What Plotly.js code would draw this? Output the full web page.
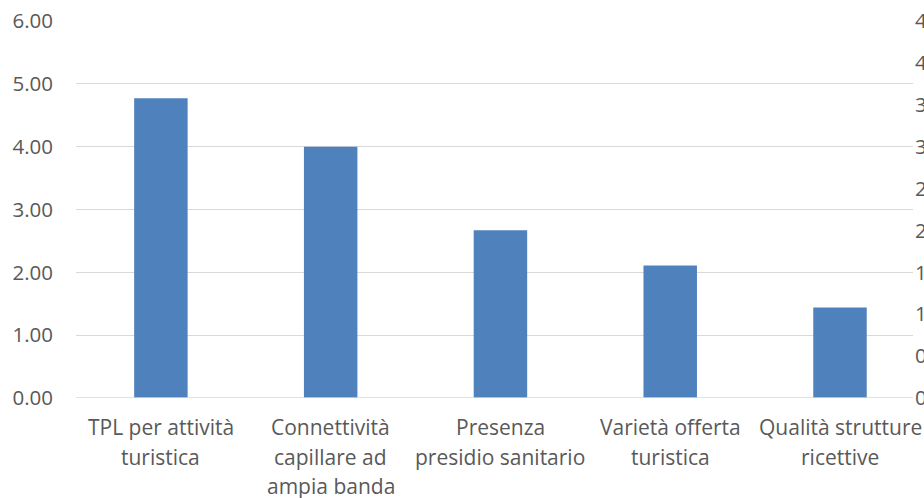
<!DOCTYPE html>
<html>
<head>
<meta charset="utf-8">
<script src="https://cdn.plot.ly/plotly-3.0.1.min.js"></script>
<style>
  html, body { margin: 0; padding: 0; background: #fff; }
  #chart { width: 924px; height: 498px; }
</style>
</head>
<body>
<div id="chart"></div>
<script>
// Category labels, split into the lines they are shown on
const categories = [
  ["TPL per attività", "turistica"],
  ["Connettività", "capillare ad", "ampia banda"],
  ["Presenza", "presidio sanitario"],
  ["Varietà offerta", "turistica"],
  ["Qualità strutture", "ricettive"]
];
const values = [4.77, 4.00, 2.67, 2.11, 1.44];
const leftTicks = [0, 1, 2, 3, 4, 5, 6];
const rightTicks = [0, 0.5, 1, 1.5, 2, 2.5, 3, 3.5, 4, 4.5];

const textColor = "#595959";
const fontFamily = "'Open Sans', 'Noto Sans', sans-serif";
const idx = categories.map((_, i) => i);

const trace = {
  type: "bar",
  x: idx,
  y: values,
  marker: { color: "#4F81BD", line: { width: 0 } },
  hoverinfo: "skip"
};

// One annotation per label line for the wide Excel-style line spacing
const annotations = [];
categories.forEach((lines, i) => {
  lines.forEach((line, j) => {
    annotations.push({
      x: i, xref: "x",
      y: 0, yref: "paper",
      yanchor: "middle",
      yshift: -29 - j * 29.5,
      text: line,
      showarrow: false,
      font: { family: fontFamily, size: 21, color: textColor }
    });
  });
});

const layout = {
  width: 924,
  height: 498,
  margin: { l: 76, r: 11, t: 21, b: 100 },
  paper_bgcolor: "#ffffff",
  plot_bgcolor: "#ffffff",
  showlegend: false,
  bargap: 0.685,
  font: { family: fontFamily, size: 21, color: textColor },
  xaxis: {
    range: [-0.5, 4.43],
    tickvals: idx,
    showticklabels: false,
    showgrid: false,
    zeroline: false,
    showline: false,
    ticks: "",
    fixedrange: true
  },
  yaxis: {
    range: [0, 6],
    tickvals: leftTicks,
    tickformat: ".2f",
    showgrid: true,
    gridcolor: "#D9D9D9",
    gridwidth: 1,
    zeroline: false,
    showline: false,
    ticks: "",
    ticklabelstandoff: 22,
    tickfont: { family: fontFamily, size: 20.5, color: textColor },
    fixedrange: true
  },
  yaxis2: {
    overlaying: "y",
    side: "right",
    anchor: "x",
    range: [0, 4.5],
    tickvals: rightTicks,
    tickformat: ".2f",
    showgrid: false,
    zeroline: false,
    showline: false,
    ticks: "",
    ticklabelstandoff: 1,
    tickfont: { family: fontFamily, size: 20.5, color: textColor },
    fixedrange: true
  },
  shapes: [{
    type: "line", xref: "paper", yref: "y",
    x0: 0, x1: 1, y0: 0, y1: 0,
    line: { color: "#D9D9D9", width: 1.5 }
  }],
  annotations: annotations
};

// Empty series so the secondary axis has a subplot to draw on
const axisHolder = { type: "bar", x: [], y: [], yaxis: "y2", hoverinfo: "skip", showlegend: false };

Plotly.newPlot("chart", [trace, axisHolder], layout, { displayModeBar: false, staticPlot: true });
</script>
</body>
</html>
